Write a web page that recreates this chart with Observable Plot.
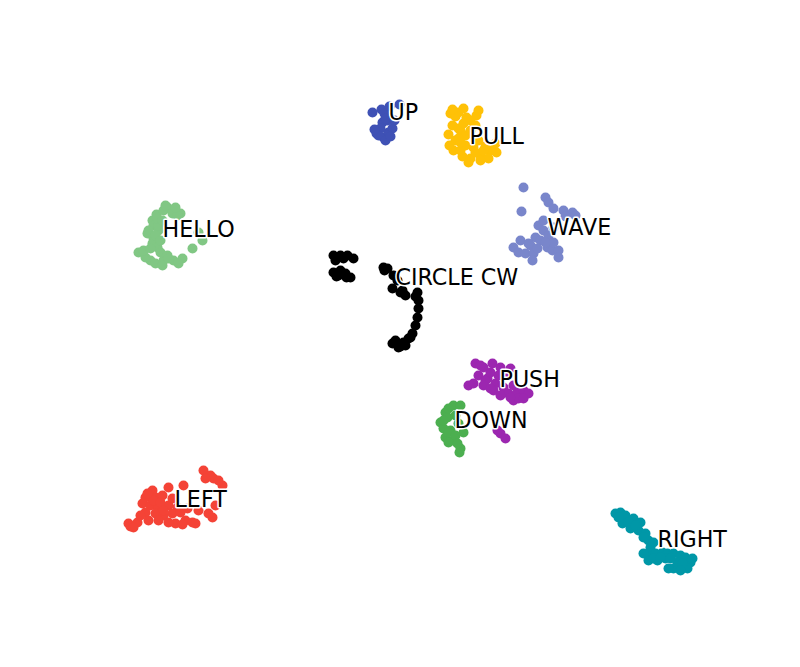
<!DOCTYPE html>
<html>
<head>
<meta charset="utf-8">
<script src="https://cdn.jsdelivr.net/npm/d3@7"></script>
<script src="https://cdn.jsdelivr.net/npm/@observablehq/plot@0.6"></script>
<style>
html, body { margin: 0; padding: 0; background: #fff; }
#chart svg { display: block; }
</style>
</head>
<body>
<div id="chart"></div>
<script>
// Embedding coordinates [x, y] per gesture class (y grows downward)
const UP = [[37.2,11.2],[38.1,10.9],[38.4,11.3],[38.9,10.6],[39.9,10.4],[38.2,12.2],[38.7,12.0],[37.6,13.3],[38.3,13.7],[38.8,13.2],[39.2,12.8],[38.0,12.8],[37.8,13.5],[39.4,12.0],[37.4,12.9],[38.5,14.0],[39.0,13.6],[38.5,11.8]];
const PULL = [[45.0,11.3],[45.8,11.2],[46.6,11.7],[47.6,11.5],[45.2,12.5],[44.8,13.4],[45.5,14.0],[45.3,15.0],[46.2,15.6],[47.0,15.8],[48.0,15.5],[49.0,15.0],[49.6,15.2],[47.3,14.7],[46.5,14.5],[48.5,14.6],[45.8,12.8],[46.0,15.0],[47.8,14.0],[45.5,11.6],[47.0,12.0],[44.9,14.5],[48.8,15.8],[46.8,16.2],[46.0,13.0],[46.5,13.5],[47.0,13.0],[45.8,13.8],[47.5,15.2],[48.3,15.0],[46.0,14.2],[47.5,12.5],[46.3,12.3],[49.5,14.3],[48.0,16.0],[45.2,10.9],[46.3,10.8],[47.8,11.0]];
const HELLO = [[16.7,20.7],[15.6,21.4],[16.3,21.0],[17.2,21.3],[18.0,21.3],[15.2,22.0],[15.3,22.5],[14.8,23.0],[14.7,23.3],[15.3,23.8],[15.2,24.3],[13.8,25.2],[15.7,24.7],[16.0,25.2],[15.0,26.0],[15.5,26.3],[16.3,26.0],[17.3,26.0],[18.2,25.8],[19.2,24.8],[19.8,23.2],[20.2,24.0],[17.7,21.5],[16.7,25.5],[14.5,25.7],[16.2,26.5],[15.8,23.0],[15.8,22.5],[15.5,23.5],[16.0,24.0],[15.7,21.8],[16.8,25.8],[17.8,26.3],[14.3,25.0],[15.0,24.8],[16.5,20.5],[17.5,20.7],[16.2,22.0]];
const WAVE = [[52.3,18.7],[52.1,21.1],[54.5,19.7],[54.8,20.2],[55.3,20.8],[56.3,21.0],[57.2,21.2],[57.5,21.5],[53.8,22.5],[54.3,23.0],[54.8,23.5],[53.5,23.7],[54.0,24.0],[53.0,24.5],[51.3,24.7],[51.8,25.2],[52.5,25.3],[53.3,25.3],[53.2,26.0],[54.7,24.7],[55.2,25.0],[55.8,25.0],[55.8,25.7],[55.3,24.2],[52.0,24.0],[53.7,24.8],[54.5,24.2],[52.8,24.3],[55.3,22.7],[56.5,21.6],[54.3,22.0]];
const CIRCLE_CW = [[33.3,25.5],[34.0,25.5],[34.7,25.5],[35.3,25.8],[33.5,26.0],[33.3,27.2],[33.8,27.5],[34.5,27.3],[35.0,27.7],[34.0,27.0],[38.3,26.7],[38.7,26.8],[39.3,27.5],[39.7,28.0],[39.2,28.8],[40.0,29.2],[40.5,29.5],[41.7,29.2],[41.8,30.0],[41.8,30.8],[41.7,31.7],[41.5,32.5],[41.2,33.3],[40.8,33.8],[40.3,34.2],[39.5,34.0],[39.2,34.3],[39.8,34.7],[40.5,34.5],[41.0,33.7],[34.3,25.8],[33.6,27.6],[34.6,27.7],[38.4,27.0],[40.2,29.0],[41.5,29.6],[40.0,34.6]];
const PUSH = [[47.5,36.3],[48.3,36.7],[49.2,36.3],[50.0,36.7],[51.0,36.8],[46.8,38.5],[47.8,37.5],[48.7,37.8],[49.5,38.3],[50.3,38.7],[49.3,39.0],[50.8,39.3],[51.7,39.2],[52.3,39.0],[52.8,39.3],[51.3,40.0],[51.8,39.8],[50.0,43.3],[50.5,43.8],[49.7,43.0],[48.5,38.0],[48.0,36.5],[49.0,37.2],[49.8,37.5],[48.3,38.5],[49.0,38.8],[50.0,39.5],[51.0,39.7],[52.3,39.8],[47.3,38.3],[50.5,37.5],[51.3,38.5]];
const DOWN = [[45.3,40.5],[46.0,40.5],[44.5,41.2],[44.0,42.2],[44.3,42.8],[44.5,43.7],[45.3,44.0],[46.0,44.8],[45.0,43.0],[46.3,43.2],[45.8,42.3],[44.7,41.7],[45.9,45.2],[44.8,40.8],[45.5,41.5],[44.3,42.0],[44.8,43.2],[45.5,43.5],[44.8,44.2],[45.7,44.3]];
const LEFT = [[20.3,47.0],[21.0,47.5],[21.3,47.8],[22.2,48.5],[15.2,49.0],[16.8,48.7],[18.3,48.5],[14.5,49.7],[15.5,49.7],[16.2,49.5],[14.2,50.3],[15.0,50.5],[15.8,50.7],[16.8,50.5],[17.7,50.7],[14.5,51.2],[15.5,51.3],[16.3,51.5],[17.2,51.3],[18.0,51.2],[18.5,52.0],[17.5,52.3],[12.8,52.3],[13.7,52.2],[19.2,52.2],[21.2,51.7],[21.5,50.5],[19.8,51.0],[14.8,52.0],[13.0,52.6],[15.3,50.0],[16.0,50.2],[17.2,49.8],[18.7,50.8],[19.5,52.3],[18.2,52.4],[16.8,52.2],[15.8,52.0],[14.0,51.5],[20.5,47.8],[21.8,48.0],[20.8,51.3],[13.3,52.7],[14.7,49.3],[16.3,51.0]];
const RIGHT = [[61.5,51.3],[62.0,51.2],[62.5,51.5],[63.3,51.8],[64.0,52.2],[62.2,52.3],[63.0,52.8],[63.8,53.0],[64.5,53.3],[64.8,54.0],[65.0,54.7],[64.8,55.3],[65.5,55.3],[66.2,55.2],[66.7,55.3],[67.3,55.3],[68.0,55.5],[68.5,55.7],[69.0,56.2],[68.7,56.8],[67.3,56.8],[65.7,56.0],[64.8,56.0],[67.7,56.2],[66.5,55.8],[62.8,52.2],[63.5,52.5],[64.3,53.7],[65.3,54.2],[64.3,55.3],[65.3,55.8],[66.0,55.7],[67.0,55.8],[68.2,56.3],[69.2,55.8],[61.8,51.7],[66.8,56.8],[68.0,57.0]];

const classNames = ["UP", "PULL", "HELLO", "WAVE", "CIRCLE CW", "PUSH", "DOWN", "LEFT", "RIGHT"];
const classPoints = [UP, PULL, HELLO, WAVE, CIRCLE_CW, PUSH, DOWN, LEFT, RIGHT];
const classColors = ["#3f51b5", "#ffc107", "#81c784", "#7986cb", "#000000", "#9c27b0", "#4caf50", "#f44336", "#0097a7"];
// label anchor (left, baseline) per class
const labelX = [38.8, 46.9, 16.2, 54.7, 39.5, 49.9, 45.4, 17.4, 65.7];
const labelY = [11.9, 14.3, 23.6, 23.4, 28.4, 38.6, 42.7, 50.6, 54.6];

const points = classPoints.flatMap((pts, i) => pts.map(([x, y]) => ({x, y, label: classNames[i]})));
const labels = classNames.map((name, i) => ({name, x: labelX[i], y: labelY[i]}));

const chart = Plot.plot({
  width: 800,
  height: 667,
  margin: 0,
  x: {domain: [0, 80], axis: null},
  y: {domain: [0, 66.7], reverse: true, axis: null},
  color: {domain: classNames, range: classColors},
  marks: [
    Plot.dot(points, {x: "x", y: "y", r: 5, fill: "label", stroke: null}),
    Plot.text(labels, {
      x: "x", y: "y", text: "name",
      textAnchor: "start", lineAnchor: "bottom",
      fontSize: 22.2, fontFamily: "DejaVu Sans",
      fill: "black", stroke: "white", strokeWidth: 3
    })
  ]
});
chart.style.fontFamily = "DejaVu Sans";
document.getElementById("chart").appendChild(chart);
</script>
</body>
</html>
